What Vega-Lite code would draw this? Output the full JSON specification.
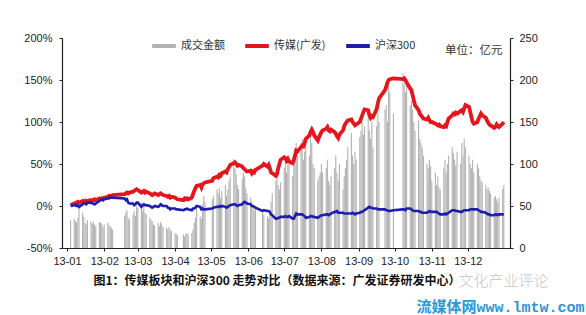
{
"$schema": "https://vega.github.io/schema/vega-lite/v6.json",
"width": 448, "height": 210,
"autosize": {"type": "none"},
"padding": {"left": 62, "top": 38, "right": 76, "bottom": 67},
"background": "white",
"config": {"view": {"stroke": null}, "axis": {"labelFont": "Liberation Sans", "labelFontSize": 11, "labelColor": "#222", "domainColor": "#222", "domainWidth": 1.2, "tickColor": "#222", "tickSize": 3, "grid": false}},
"title": {"text": "图1：传媒板块和沪深300 走势对比（数据来源：广发证券研发中心）", "orient": "bottom", "frame": "group", "font": "Noto Sans CJK SC", "fontSize": 12, "fontWeight": "bold", "color": "#111", "offset": 0, "dy": -38, "dx": -9},
"data": {"values": [
{"d":"2013/01/04","v":33,"m":1,"h":0},{"d":"2013/01/07","v":35,"m":3,"h":1},{"d":"2013/01/08","v":32,"m":2,"h":1},{"d":"2013/01/09","v":30,"m":4,"h":0},{"d":"2013/01/10","v":36,"m":5,"h":1},{"d":"2013/01/11","v":48,"m":4,"h":-1},{"d":"2013/01/14","v":42,"m":6,"h":2},{"d":"2013/01/15","v":37,"m":5,"h":3},{"d":"2013/01/16","v":30,"m":6,"h":3},{"d":"2013/01/17","v":28,"m":4,"h":2},{"d":"2013/01/18","v":33,"m":6,"h":4},{"d":"2013/01/21","v":32,"m":7,"h":4},{"d":"2013/01/22","v":29,"m":6,"h":3},{"d":"2013/01/23","v":31,"m":7,"h":3},{"d":"2013/01/24","v":28,"m":8,"h":2},{"d":"2013/01/25","v":26,"m":7,"h":3},{"d":"2013/01/28","v":30,"m":9,"h":6},{"d":"2013/01/29","v":31,"m":8,"h":7},{"d":"2013/01/30","v":29,"m":9,"h":8},{"d":"2013/01/31","v":25,"m":8,"h":7},
{"d":"2013/02/01","v":28,"m":10,"h":8},{"d":"2013/02/04","v":30,"m":11,"h":9},{"d":"2013/02/05","v":27,"m":12,"h":9},{"d":"2013/02/06","v":26,"m":11,"h":11},{"d":"2013/02/07","v":24,"m":12,"h":10},{"d":"2013/02/08","v":22,"m":13,"h":10},{"d":"2013/02/18","v":38,"m":14,"h":9},{"d":"2013/02/19","v":42,"m":15,"h":7},{"d":"2013/02/20","v":45,"m":16,"h":8},{"d":"2013/02/21","v":36,"m":15,"h":4},{"d":"2013/02/22","v":34,"m":16,"h":3},{"d":"2013/02/25","v":40,"m":17,"h":3},{"d":"2013/02/26","v":44,"m":18,"h":1},{"d":"2013/02/27","v":38,"m":19,"h":2},{"d":"2013/02/28","v":50,"m":20,"h":4},
{"d":"2013/03/01","v":48,"m":19,"h":4},{"d":"2013/03/04","v":55,"m":16,"h":-1},{"d":"2013/03/05","v":45,"m":17,"h":1},{"d":"2013/03/06","v":50,"m":18,"h":2},{"d":"2013/03/07","v":42,"m":16,"h":1},{"d":"2013/03/08","v":40,"m":17,"h":1},{"d":"2013/03/11","v":36,"m":15,"h":0},{"d":"2013/03/12","v":34,"m":14,"h":-1},{"d":"2013/03/13","v":32,"m":13,"h":-2},{"d":"2013/03/14","v":28,"m":14,"h":-1},{"d":"2013/03/15","v":27,"m":15,"h":0},{"d":"2013/03/18","v":30,"m":13,"h":-1},{"d":"2013/03/19","v":26,"m":14,"h":0},{"d":"2013/03/20","v":31,"m":15,"h":2},{"d":"2013/03/21","v":28,"m":14,"h":1},{"d":"2013/03/22","v":25,"m":13,"h":0},{"d":"2013/03/25","v":24,"m":12,"h":0},{"d":"2013/03/26","v":22,"m":11,"h":-2},{"d":"2013/03/27","v":25,"m":12,"h":-2},{"d":"2013/03/28","v":22,"m":10,"h":-4},{"d":"2013/03/29","v":20,"m":11,"h":-3},
{"d":"2013/04/01","v":18,"m":10,"h":-3},{"d":"2013/04/02","v":17,"m":9,"h":-4},{"d":"2013/04/03","v":15,"m":8,"h":-4},{"d":"2013/04/08","v":16,"m":7,"h":-5},{"d":"2013/04/09","v":14,"m":9,"h":-4},{"d":"2013/04/10","v":17,"m":8,"h":-4},{"d":"2013/04/11","v":18,"m":9,"h":-3},{"d":"2013/04/12","v":16,"m":8,"h":-4},{"d":"2013/04/15","v":18,"m":10,"h":-5},{"d":"2013/04/16","v":22,"m":14,"h":-3},{"d":"2013/04/17","v":30,"m":18,"h":-3},{"d":"2013/04/18","v":36,"m":21,"h":-2},{"d":"2013/04/19","v":48,"m":24,"h":0},{"d":"2013/04/22","v":38,"m":25,"h":-1},{"d":"2013/04/23","v":35,"m":22,"h":-4},{"d":"2013/04/24","v":52,"m":26,"h":-3},{"d":"2013/04/25","v":62,"m":27,"h":-4},{"d":"2013/04/26","v":55,"m":28,"h":-4},
{"d":"2013/05/02","v":58,"m":30,"h":-3},{"d":"2013/05/03","v":62,"m":33,"h":-2},{"d":"2013/05/06","v":70,"m":35,"h":-1},{"d":"2013/05/07","v":65,"m":34,"h":-1},{"d":"2013/05/08","v":72,"m":37,"h":0},{"d":"2013/05/09","v":60,"m":36,"h":-1},{"d":"2013/05/10","v":68,"m":39,"h":0},{"d":"2013/05/13","v":75,"m":41,"h":-1},{"d":"2013/05/14","v":62,"m":40,"h":-2},{"d":"2013/05/15","v":70,"m":44,"h":-1},{"d":"2013/05/16","v":80,"m":46,"h":0},{"d":"2013/05/17","v":85,"m":49,"h":1},{"d":"2013/05/20","v":106,"m":51,"h":2},{"d":"2013/05/21","v":95,"m":52,"h":2},{"d":"2013/05/22","v":88,"m":50,"h":1},{"d":"2013/05/23","v":75,"m":48,"h":0},{"d":"2013/05/24","v":70,"m":49,"h":1},{"d":"2013/05/27","v":82,"m":47,"h":2},{"d":"2013/05/28","v":90,"m":45,"h":4},{"d":"2013/05/29","v":85,"m":44,"h":5},{"d":"2013/05/30","v":72,"m":42,"h":4},{"d":"2013/05/31","v":65,"m":41,"h":3},
{"d":"2013/06/03","v":60,"m":42,"h":2},{"d":"2013/06/04","v":55,"m":39,"h":0},{"d":"2013/06/05","v":50,"m":41,"h":0},{"d":"2013/06/06","v":45,"m":40,"h":-1},{"d":"2013/06/07","v":48,"m":43,"h":-2},{"d":"2013/06/13","v":42,"m":48,"h":-6},{"d":"2013/06/14","v":40,"m":50,"h":-5},{"d":"2013/06/17","v":38,"m":47,"h":-6},{"d":"2013/06/18","v":35,"m":49,"h":-6},{"d":"2013/06/19","v":40,"m":45,"h":-7},{"d":"2013/06/20","v":55,"m":40,"h":-10},{"d":"2013/06/21","v":65,"m":39,"h":-11},{"d":"2013/06/24","v":80,"m":36,"h":-15},{"d":"2013/06/25","v":89,"m":38,"h":-15},{"d":"2013/06/26","v":75,"m":45,"h":-14},{"d":"2013/06/27","v":70,"m":50,"h":-14},{"d":"2013/06/28","v":78,"m":55,"h":-13},
{"d":"2013/07/01","v":95,"m":58,"h":-13},{"d":"2013/07/02","v":105,"m":57,"h":-12},{"d":"2013/07/03","v":90,"m":54,"h":-13},{"d":"2013/07/04","v":110,"m":56,"h":-13},{"d":"2013/07/05","v":100,"m":53,"h":-12},{"d":"2013/07/08","v":85,"m":51,"h":-15},{"d":"2013/07/09","v":100,"m":55,"h":-15},{"d":"2013/07/10","v":115,"m":60,"h":-12},{"d":"2013/07/11","v":125,"m":66,"h":-9},{"d":"2013/07/12","v":110,"m":65,"h":-10},{"d":"2013/07/15","v":120,"m":70,"h":-10},{"d":"2013/07/16","v":130,"m":72,"h":-10},{"d":"2013/07/17","v":105,"m":71,"h":-11},{"d":"2013/07/18","v":115,"m":75,"h":-12},{"d":"2013/07/19","v":128,"m":80,"h":-14},{"d":"2013/07/22","v":110,"m":84,"h":-13},{"d":"2013/07/23","v":134,"m":88,"h":-12},{"d":"2013/07/24","v":125,"m":91,"h":-12},{"d":"2013/07/25","v":100,"m":88,"h":-13},{"d":"2013/07/26","v":95,"m":84,"h":-13},{"d":"2013/07/29","v":80,"m":78,"h":-14},{"d":"2013/07/30","v":85,"m":82,"h":-13},{"d":"2013/07/31","v":90,"m":85,"h":-12},
{"d":"2013/08/01","v":100,"m":88,"h":-11},{"d":"2013/08/02","v":90,"m":90,"h":-11},{"d":"2013/08/05","v":95,"m":92,"h":-10},{"d":"2013/08/06","v":105,"m":94,"h":-10},{"d":"2013/08/07","v":80,"m":90,"h":-11},{"d":"2013/08/08","v":75,"m":89,"h":-10},{"d":"2013/08/09","v":85,"m":91,"h":-9},{"d":"2013/08/12","v":95,"m":88,"h":-7},{"d":"2013/08/13","v":110,"m":86,"h":-7},{"d":"2013/08/14","v":90,"m":83,"h":-6},{"d":"2013/08/15","v":80,"m":81,"h":-8},{"d":"2013/08/16","v":100,"m":85,"h":-8},{"d":"2013/08/19","v":70,"m":90,"h":-8},{"d":"2013/08/20","v":85,"m":95,"h":-9},{"d":"2013/08/21","v":95,"m":98,"h":-9},{"d":"2013/08/22","v":105,"m":100,"h":-9},{"d":"2013/08/23","v":120,"m":102,"h":-9},{"d":"2013/08/26","v":137,"m":103,"h":-9},{"d":"2013/08/27","v":110,"m":100,"h":-8},{"d":"2013/08/28","v":100,"m":98,"h":-9},{"d":"2013/08/29","v":115,"m":96,"h":-10},{"d":"2013/08/30","v":105,"m":97,"h":-9},
{"d":"2013/09/02","v":132,"m":100,"h":-8},{"d":"2013/09/03","v":140,"m":104,"h":-7},{"d":"2013/09/04","v":150,"m":108,"h":-7},{"d":"2013/09/05","v":135,"m":112,"h":-6},{"d":"2013/09/06","v":145,"m":115,"h":-5},{"d":"2013/09/09","v":156,"m":114,"h":-2},{"d":"2013/09/10","v":140,"m":108,"h":-1},{"d":"2013/09/11","v":130,"m":105,"h":-2},{"d":"2013/09/12","v":150,"m":107,"h":-2},{"d":"2013/09/13","v":120,"m":106,"h":-3},{"d":"2013/09/16","v":145,"m":115,"h":-3},{"d":"2013/09/17","v":160,"m":122,"h":-4},{"d":"2013/09/18","v":150,"m":128,"h":-4},{"d":"2013/09/23","v":165,"m":138,"h":-4},{"d":"2013/09/24","v":170,"m":142,"h":-5},{"d":"2013/09/25","v":150,"m":147,"h":-5},{"d":"2013/09/26","v":200,"m":150,"h":-6},{"d":"2013/09/27","v":185,"m":151,"h":-6},{"d":"2013/09/30","v":160,"m":152,"h":-5},
{"d":"2013/10/08","v":208,"m":151,"h":-4},{"d":"2013/10/09","v":195,"m":152,"h":-4},{"d":"2013/10/10","v":185,"m":150,"h":-5},{"d":"2013/10/11","v":200,"m":147,"h":-3},{"d":"2013/10/14","v":170,"m":140,"h":-3},{"d":"2013/10/15","v":175,"m":138,"h":-4},{"d":"2013/10/16","v":165,"m":132,"h":-5},{"d":"2013/10/17","v":150,"m":126,"h":-6},{"d":"2013/10/18","v":140,"m":120,"h":-6},{"d":"2013/10/21","v":152,"m":114,"h":-6},{"d":"2013/10/22","v":130,"m":110,"h":-7},{"d":"2013/10/23","v":125,"m":108,"h":-7},{"d":"2013/10/24","v":120,"m":106,"h":-8},{"d":"2013/10/25","v":110,"m":104,"h":-8},{"d":"2013/10/28","v":100,"m":103,"h":-8},{"d":"2013/10/29","v":95,"m":105,"h":-7},{"d":"2013/10/30","v":105,"m":102,"h":-6},{"d":"2013/10/31","v":98,"m":100,"h":-7},
{"d":"2013/11/01","v":80,"m":100,"h":-7},{"d":"2013/11/04","v":90,"m":98,"h":-7},{"d":"2013/11/05","v":75,"m":97,"h":-7},{"d":"2013/11/06","v":85,"m":96,"h":-8},{"d":"2013/11/07","v":72,"m":97,"h":-9},{"d":"2013/11/08","v":70,"m":95,"h":-10},{"d":"2013/11/11","v":95,"m":94,"h":-10},{"d":"2013/11/12","v":105,"m":96,"h":-9},{"d":"2013/11/13","v":90,"m":95,"h":-10},{"d":"2013/11/14","v":100,"m":100,"h":-9},{"d":"2013/11/15","v":110,"m":104,"h":-8},{"d":"2013/11/18","v":120,"m":108,"h":-5},{"d":"2013/11/19","v":113,"m":110,"h":-5},{"d":"2013/11/20","v":105,"m":109,"h":-5},{"d":"2013/11/21","v":98,"m":111,"h":-6},{"d":"2013/11/22","v":115,"m":110,"h":-6},{"d":"2013/11/25","v":100,"m":113,"h":-7},{"d":"2013/11/26","v":125,"m":114,"h":-7},{"d":"2013/11/27","v":110,"m":112,"h":-6},{"d":"2013/11/28","v":130,"m":116,"h":-5},{"d":"2013/11/29","v":120,"m":120,"h":-5},
{"d":"2013/12/02","v":110,"m":118,"h":-5},{"d":"2013/12/03","v":100,"m":112,"h":-4},{"d":"2013/12/04","v":95,"m":106,"h":-4},{"d":"2013/12/05","v":105,"m":100,"h":-4},{"d":"2013/12/06","v":90,"m":98,"h":-4},{"d":"2013/12/09","v":100,"m":100,"h":-4},{"d":"2013/12/10","v":95,"m":104,"h":-5},{"d":"2013/12/11","v":85,"m":107,"h":-6},{"d":"2013/12/12","v":80,"m":110,"h":-7},{"d":"2013/12/13","v":78,"m":108,"h":-7},{"d":"2013/12/16","v":75,"m":105,"h":-8},{"d":"2013/12/17","v":70,"m":102,"h":-9},{"d":"2013/12/18","v":72,"m":99,"h":-10},{"d":"2013/12/19","v":68,"m":97,"h":-10},{"d":"2013/12/20","v":65,"m":96,"h":-11},{"d":"2013/12/23","v":60,"m":93,"h":-11},{"d":"2013/12/24","v":62,"m":94,"h":-10},{"d":"2013/12/25","v":58,"m":97,"h":-10},{"d":"2013/12/26","v":55,"m":95,"h":-11},{"d":"2013/12/27","v":60,"m":94,"h":-10},{"d":"2013/12/30","v":70,"m":98,"h":-10},{"d":"2013/12/31","v":75,"m":100,"h":-10}
]},
"encoding": {
  "x": {"field": "d", "type": "temporal",
    "scale": {"domain": [{"year": 2013, "month": 1, "date": 1}, {"year": 2014, "month": 1, "date": 1}]},
    "axis": {"format": "%y-%m", "labelPadding": 4, "labelFlush": false, "labelOverlap": false,
      "title": "流媒体网www.lmtw.com", "titleFont": "Liberation Mono, Noto Sans CJK SC", "titleFontSize": 15, "titleFontWeight": "bold", "titleColor": "#2f95d6", "titleAlign": "left", "titleBaseline": "middle", "titleAnchor": "start", "titleX": 354, "titleY": 58,
      "values": [{"year":2013,"month":1,"date":1},{"year":2013,"month":2,"date":1},{"year":2013,"month":3,"date":1},{"year":2013,"month":4,"date":1},{"year":2013,"month":5,"date":1},{"year":2013,"month":6,"date":1},{"year":2013,"month":7,"date":1},{"year":2013,"month":8,"date":1},{"year":2013,"month":9,"date":1},{"year":2013,"month":10,"date":1},{"year":2013,"month":11,"date":1},{"year":2013,"month":12,"date":1}]}}
},
"layer": [
  {"mark": {"type": "bar", "size": 1.1, "color": "#b2b2b2"},
   "encoding": {
     "y": {"field": "v", "type": "quantitative", "scale": {"domain": [0, 250], "nice": false},
       "axis": {"orient": "right", "values": [0, 50, 100, 150, 200, 250], "labelPadding": 6, "title": "单位：亿元", "titleAngle": 0, "titleAlign": "right", "titleBaseline": "middle", "titleX": -8, "titleY": 12, "titleFont": "Noto Sans CJK SC", "titleFontSize": 11.5, "titleFontWeight": "normal", "titleColor": "#333"}}
   }},
  {"layer": [
    {"mark": {"type": "line", "strokeWidth": 3.8},
     "encoding": {
       "y": {"field": "m", "type": "quantitative", "scale": {"domain": [-50, 200], "nice": false},
         "axis": {"orient": "left", "values": [-50, 0, 50, 100, 150, 200], "labelExpr": "datum.value + '%'", "labelPadding": 7, "title": "文化产业评论", "titleAngle": 0, "titleAlign": "left", "titleBaseline": "middle", "titleX": 396, "titleY": 242, "titleFont": "Noto Sans CJK SC", "titleFontSize": 15, "titleFontWeight": 300, "titleColor": "#c6c6c6"}},
       "color": {"datum": "传媒(广发)", "scale": {"domain": ["成交金额", "传媒(广发)", "沪深300"], "range": ["#b2b2b2", "#e8141b", "#1d1db0"]},
         "legend": {"orient": "none", "legendX": 88, "legendY": -6, "direction": "horizontal", "title": null, "symbolType": "stroke", "symbolStrokeWidth": 4, "symbolSize": 560, "labelFont": "Noto Sans CJK SC", "labelFontSize": 11, "labelColor": "#333", "labelOffset": 3, "columnPadding": 12}}
     }},
    {"mark": {"type": "line", "strokeWidth": 2.6},
     "encoding": {
       "y": {"field": "h", "type": "quantitative", "scale": {"domain": [-50, 200], "nice": false},
         "axis": {"orient": "left", "values": [-50, 0, 50, 100, 150, 200], "labelExpr": "datum.value + '%'", "labelPadding": 7, "title": "文化产业评论", "titleAngle": 0, "titleAlign": "left", "titleBaseline": "middle", "titleX": 396, "titleY": 242, "titleFont": "Noto Sans CJK SC", "titleFontSize": 15, "titleFontWeight": 300, "titleColor": "#c6c6c6"}},
       "color": {"datum": "沪深300"}
     }}
  ]}
],
"resolve": {"scale": {"y": "independent"}}
}
